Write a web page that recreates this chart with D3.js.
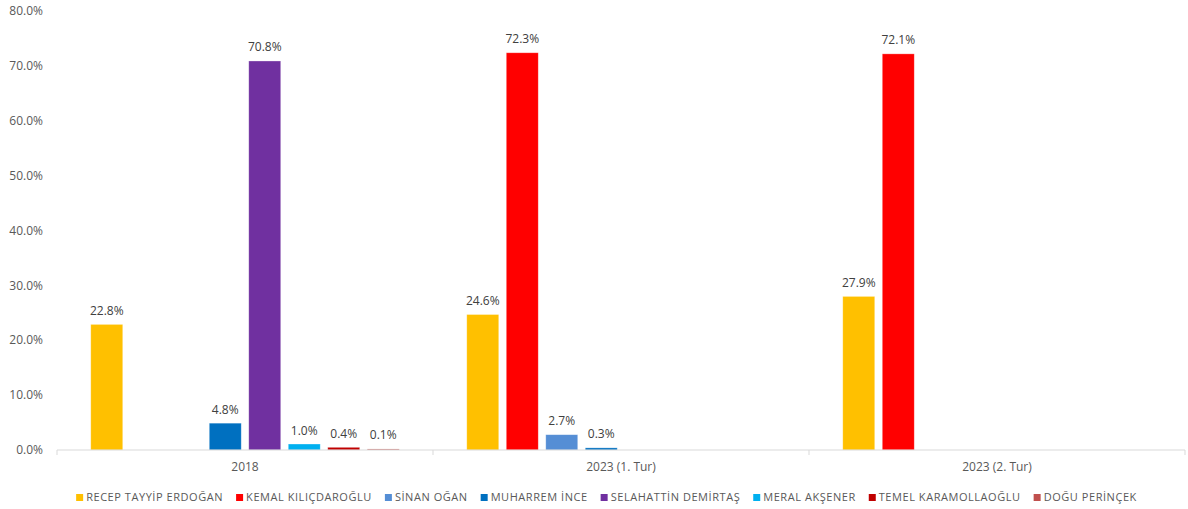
<!DOCTYPE html>
<html>
<head>
<meta charset="utf-8">
<script src="https://cdn.jsdelivr.net/npm/d3@7"></script>
<style>
  body { margin: 0; background: #fff; }
  text { font-family: "Open Sans", sans-serif; }
</style>
</head>
<body>
<div id="chart"></div>
<script>
"use strict"

// data (percent)
const categories = ["2018", "2023 (1. Tur)", "2023 (2. Tur)"];
const candidates = ["RECEP TAYYİP ERDOĞAN", "KEMAL KILIÇDAROĞLU", "SİNAN OĞAN", "MUHARREM İNCE",
    "SELAHATTİN DEMİRTAŞ", "MERAL AKŞENER", "TEMEL KARAMOLLAOĞLU", "DOĞU PERİNÇEK"];
const colours = ["#FFC000", "#FF0000", "#558ED5", "#0070C0", "#7030A0", "#00B0F0", "#C00000", "#C0504D"];
// one array per election, in candidate order; null = not on the ballot
const votes2018 = [22.8, null, null, 4.8, 70.8, 1.0, 0.4, 0.1];
const votes2023a = [24.6, 72.3, 2.7, 0.3, null, null, null, null];
const votes2023b = [27.9, 72.1, null, null, null, null, null, null];
const yTicks = [0, 10, 20, 30, 40, 50, 60, 70, 80];

const allVotes = [votes2018, votes2023a, votes2023b];

const W = 1188, H = 509;
const margin = {left: 57, right: 3, top: 11, bottom: 59};

let svg = d3.select("#chart").append("svg")
    .attr("width", W)
    .attr("height", H);

let x0 = d3.scaleBand()
    .domain(categories)
    .range([margin.left, W - margin.right]);

let x1 = d3.scaleBand()
    .domain(candidates)
    .range([0, x0.bandwidth()])
    .paddingInner(0.19)
    .paddingOuter(0.855);

let y = d3.scaleLinear()
    .domain([0, 80])
    .range([H - margin.bottom, margin.top]);

// y tick labels (no axis line, no grid in the original)
svg.append("g").selectAll("text")
    .data(yTicks)
    .join("text")
    .attr("x", 43)
    .attr("y", d => y(d))
    .attr("dy", "0.35em")
    .attr("text-anchor", "end")
    .attr("fill", "#595959")
    .attr("font-size", 12)
    .text(d => d.toFixed(1) + "%");

// bars
let groups = svg.append("g").selectAll("g")
    .data(categories)
    .join("g")
    .attr("transform", d => `translate(${x0(d)},0)`);

let barData = (cat, i) => candidates.map((c, j) => ({c: c, v: allVotes[i][j], col: colours[j]}))
    .filter(d => d.v !== null);

groups.selectAll("rect")
    .data(barData)
    .join("rect")
    .attr("x", d => x1(d.c))
    .attr("width", x1.bandwidth())
    .attr("y", d => y(d.v) - 0.5)
    .attr("height", d => y(0) - y(d.v) + 0.5)
    .attr("fill", d => d.col)
    .attr("stroke", "rgba(255,255,255,0.45)")
    .attr("stroke-width", 0.7);

groups.selectAll("text")
    .data(barData)
    .join("text")
    .attr("x", d => x1(d.c) + x1.bandwidth() / 2)
    .attr("y", d => y(d.v) - 10)
    .attr("text-anchor", "middle")
    .attr("fill", "#404040")
    .attr("font-size", 12)
    .text(d => d.v.toFixed(1) + "%");

// x axis
let xAxis = svg.append("g")
    .attr("transform", `translate(0,${y(0)})`);
xAxis.append("line")
    .attr("x1", margin.left).attr("x2", W - margin.right)
    .attr("stroke", "#d9d9d9");
let bounds = categories.map(d => x0(d)).concat([W - margin.right]);
xAxis.selectAll(".tk")
    .data(bounds)
    .join("line")
    .attr("class", "tk")
    .attr("x1", d => d).attr("x2", d => d)
    .attr("y1", 0).attr("y2", 5)
    .attr("stroke", "#d9d9d9");
xAxis.selectAll("text")
    .data(categories)
    .join("text")
    .attr("x", d => x0(d) + x0.bandwidth() / 2)
    .attr("y", 17)
    .attr("dy", "0.35em")
    .attr("text-anchor", "middle")
    .attr("fill", "#595959")
    .attr("font-size", 12)
    .text(d => d);

// legend, laid out by text width then centred (slightly left of the plot centre, as in the original)
let legend = svg.append("g");
let items = legend.selectAll("g")
    .data(candidates)
    .join("g");
items.append("rect")
    .attr("width", 7).attr("height", 7)
    .attr("y", -3.5)
    .attr("fill", (d, i) => colours[i]);
items.append("text")
    .attr("x", 10)
    .attr("dy", "0.35em")
    .attr("fill", "#595959")
    .attr("font-size", 11)
    .attr("letter-spacing", 0.55)
    .text(d => d);
let pos = 0;
items.each(function () {
    let g = d3.select(this);
    g.attr("transform", `translate(${pos},0)`);
    pos += 10 + g.select("text").node().getComputedTextLength() + 13;
});
pos -= 13;
let legendMid = (margin.left + W - margin.right) / 2 - 14.5;
legend.attr("transform", `translate(${legendMid - pos / 2},497.5)`);
</script>
</body>
</html>
